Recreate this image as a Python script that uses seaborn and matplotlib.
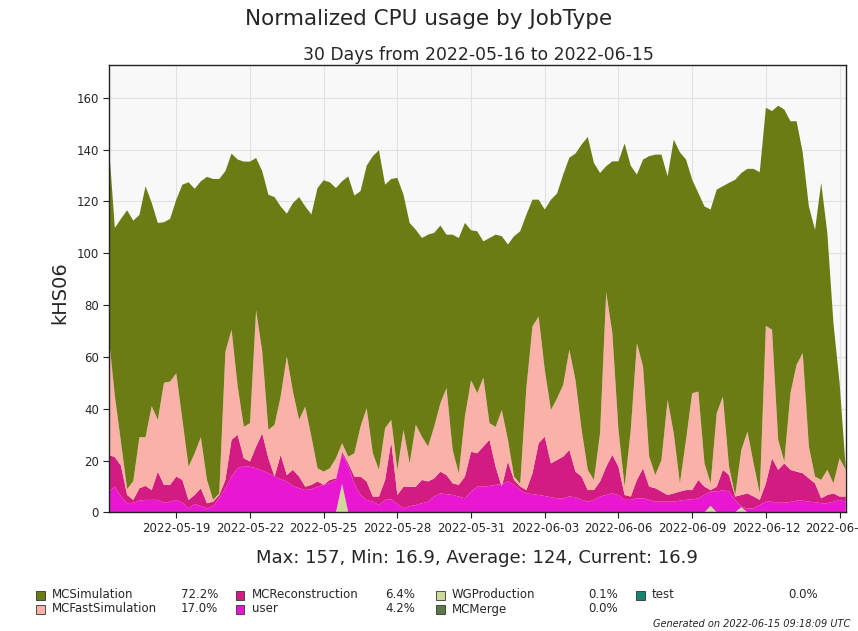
import numpy as np
import pandas as pd
import matplotlib
matplotlib.use("Agg")
import matplotlib.pyplot as plt
import matplotlib.dates as mdates
from matplotlib.patches import Rectangle
import seaborn as sns

# ---------------------------------------------------------------
# data: six-hourly samples, 2022-05-16 06:00 -> 2022-06-15 06:00
# each list is the upper edge of a stacked band (kHS06), as read
# off the original chart; bands are recovered by differencing
# ---------------------------------------------------------------
times = pd.date_range("2022-05-16 06:00", "2022-06-15 06:00", freq="6h")

total_top = [
    142.6, 109.8, 113.3, 116.6, 112.6, 114.8, 125.9, 119.5, 111.7, 112.0,
    113.3, 120.7, 126.5, 127.4, 124.9, 127.8, 129.5, 128.7, 128.7, 131.7,
    138.5, 136.2, 135.4, 135.4, 136.8, 131.7, 122.6, 121.7, 118.1, 115.3,
    119.4, 121.7, 118.1, 115.0, 125.2, 128.2, 127.4, 125.2, 127.8, 129.7,
    122.3, 124.0, 133.8, 137.5, 139.8, 126.5, 128.7, 129.1, 122.6, 111.7,
    109.1, 105.9, 107.2, 107.9, 110.7, 107.2, 107.2, 105.9, 111.7, 108.9,
    108.5, 104.6, 105.9, 107.2, 106.6, 103.4, 106.6, 108.5, 114.9, 120.7,
    120.7, 116.9, 120.7, 123.1, 130.4, 136.9, 138.5, 142.0, 144.9, 134.9,
    131.0, 133.6, 135.5, 135.5, 142.4, 133.8, 130.4, 136.2, 137.5, 138.1,
    138.1, 129.7, 143.9, 139.0, 136.2, 128.4, 123.3, 118.1, 116.9, 124.6,
    125.9, 127.2, 128.4, 131.0, 132.6, 132.6, 131.3, 156.2, 154.9, 157.0,
    155.5, 151.0, 151.0, 138.8, 118.1, 109.0, 127.2, 108.0, 73.0, 50.0,
    16.9,
]

fast_top = [
    67.9, 45.0, 27.0, 9.0, 12.0, 29.0, 29.0, 41.0, 35.7, 50.0,
    50.5, 53.7, 35.7, 17.6, 22.8, 29.0, 12.5, 4.8, 7.3, 62.0,
    70.5, 48.6, 33.0, 34.4, 78.0, 62.0, 31.8, 33.8, 44.7, 60.2,
    46.6, 35.7, 40.8, 29.2, 17.0, 15.7, 17.0, 20.9, 26.7, 21.5,
    22.8, 33.1, 40.2, 22.8, 16.4, 32.5, 35.7, 16.4, 31.8, 18.9,
    33.8, 29.2, 25.4, 33.1, 42.1, 48.0, 24.1, 15.0, 37.0, 51.0,
    46.0, 52.0, 34.4, 33.0, 39.5, 28.0, 13.8, 11.0, 48.0, 71.8,
    75.6, 55.0, 39.5, 44.0, 49.2, 62.8, 51.0, 31.8, 16.4, 12.5,
    30.5, 85.0, 69.2, 31.8, 9.9, 31.8, 65.3, 56.3, 21.5, 14.4,
    20.2, 43.4, 30.5, 11.2, 28.0, 46.0, 46.6, 18.9, 11.2, 38.3,
    44.7, 17.6, 6.5, 24.0, 31.2, 18.9, 7.3, 72.0, 70.5, 28.0,
    19.6, 46.0, 57.0, 61.5, 25.4, 13.8, 12.5, 16.4, 11.2, 20.9,
    16.4,
]

reco_top = [
    22.2, 21.3, 18.0, 6.7, 4.8, 9.3, 10.2, 8.6, 15.7, 10.6,
    10.6, 13.8, 12.5, 4.8, 6.7, 9.3, 3.5, 4.1, 6.7, 12.5,
    28.0, 29.9, 20.9, 19.6, 25.4, 30.5, 20.9, 13.8, 22.2, 14.4,
    16.4, 13.8, 9.9, 10.6, 11.9, 10.6, 12.5, 13.1, 23.4, 19.0,
    13.8, 13.8, 11.9, 6.1, 6.1, 12.5, 27.3, 6.7, 9.9, 9.9,
    9.9, 12.5, 11.9, 13.1, 15.7, 14.4, 11.2, 10.6, 13.8, 23.4,
    22.8, 25.4, 28.0, 17.6, 9.9, 19.6, 12.5, 10.0, 8.6, 15.1,
    26.7, 29.2, 18.9, 20.2, 21.5, 24.1, 15.7, 13.8, 8.6, 8.6,
    11.9, 17.6, 22.2, 17.6, 6.7, 6.1, 12.5, 17.0, 9.9, 9.3,
    8.0, 6.7, 7.3, 8.0, 8.6, 8.6, 12.5, 9.9, 8.6, 9.9,
    16.4, 14.4, 6.1, 6.7, 7.3, 6.1, 4.8, 11.2, 20.9, 16.4,
    18.9, 16.4, 15.7, 15.1, 13.1, 11.2, 5.4, 6.7, 7.3, 6.1,
    6.1,
]

user_top = [
    8.0, 9.9, 6.1, 3.5, 3.7, 4.5, 4.8, 4.8, 4.8, 3.7,
    4.1, 4.8, 3.7, 1.5, 3.2, 2.4, 1.5, 2.4, 5.4, 9.3,
    13.8, 17.0, 17.9, 17.6, 17.0, 16.1, 15.1, 13.8, 12.8, 11.9,
    10.2, 9.3, 8.6, 8.9, 9.9, 10.6, 11.2, 12.5, 22.5, 17.9,
    11.0, 6.7, 4.8, 4.1, 2.8, 4.8, 5.0, 3.2, 1.5, 2.4,
    2.8, 3.5, 4.1, 6.1, 7.3, 7.0, 6.7, 6.1, 5.4, 8.0,
    9.9, 9.9, 10.2, 10.6, 10.9, 11.9, 10.6, 8.6, 7.3, 7.0,
    6.7, 6.3, 5.8, 5.4, 5.4, 6.1, 5.8, 4.8, 4.1, 4.8,
    6.1, 6.7, 7.3, 6.7, 4.8, 4.8, 5.4, 5.4, 4.8, 4.1,
    4.1, 4.1, 4.1, 4.5, 4.8, 5.0, 5.4, 6.7, 8.0, 8.0,
    8.6, 8.0, 4.8, 2.2, 1.5, 1.5, 2.8, 4.1, 4.1, 3.7,
    3.7, 4.0, 4.5, 4.5, 4.1, 3.9, 3.5, 3.5, 4.1, 4.8,
    4.1,
]

wg_top = [
    0, 0, 0, 0, 0, 0, 0, 0, 0, 0,
    0, 0, 0, 0, 0, 0, 0, 0, 0, 0,
    0, 0, 0, 0, 0, 0, 0, 0, 0, 0,
    0, 0, 0, 0, 0, 0, 0, 0, 11.0, 0,
    0, 0, 0, 0, 0, 0, 0, 0, 0, 0,
    0, 0, 0, 0, 0, 0, 0, 0, 0, 0,
    0, 0, 0, 0, 0, 0, 0, 0, 0, 0,
    0, 0, 0, 0, 0, 0, 0, 0, 0, 0,
    0, 0, 0, 0, 0, 0, 0, 0, 0, 0,
    0, 0, 0, 0, 0, 0, 0, 0, 2.5, 0,
    0, 0, 0, 2.0, 0, 0, 0, 0, 0, 0,
    0, 0, 0, 0, 0, 0, 0, 0, 0, 0,
    0,
]

legend_names = ["MCSimulation", "MCFastSimulation", "MCReconstruction", "user",
                "WGProduction", "MCMerge", "test"]
legend_pcts = ["72.2%", "17.0%", "6.4%", "4.2%", "0.1%", "0.0%", "0.0%"]

COLORS = {
    "MCSimulation": "#6b7c14",
    "MCFastSimulation": "#fab2a8",
    "MCReconstruction": "#d21c82",
    "user": "#e916d2",
    "WGProduction": "#cfd898",
    "MCMerge": "#5b7a48",
    "test": "#138570",
}

# ---------------------------------------------------------------
# bands (bottom -> top)
# ---------------------------------------------------------------
levels = np.array([np.zeros(len(times)), wg_top, user_top, reco_top, fast_top, total_top])
bands = np.diff(levels, axis=0)
band_names = ["WGProduction", "user", "MCReconstruction", "MCFastSimulation", "MCSimulation"]

# ---------------------------------------------------------------
# figure
# ---------------------------------------------------------------
sns.set_theme(style="whitegrid", rc={
    "axes.facecolor": "#f8f8f8",
    "axes.edgecolor": "#222222",
    "grid.color": "#e2e2e2",
    "grid.linewidth": 0.8,
})
plt.rcParams["font.family"] = ["DejaVu Sans"]

fig = plt.figure(figsize=(8.58, 6.31), dpi=100, facecolor="white")
ax = fig.add_axes([0.1267, 0.1881, 0.859, 0.7089])

ax.stackplot(times, *bands, colors=[COLORS[n] for n in band_names],
             linewidth=0, edgecolor="none")

ax.set_xlim(times[0], times[-1])
ax.set_ylim(0, 172.7)
ax.set_yticks(range(0, 161, 20))
ax.xaxis.set_major_locator(mdates.DayLocator(bymonthday=[19, 22, 25, 28, 31, 3, 6, 9, 12, 15]))
ax.xaxis.set_major_formatter(mdates.DateFormatter("%Y-%m-%d"))
ax.tick_params(axis="both", which="major", labelsize=8.5, length=4, width=0.8,
               direction="out", color="#222222", bottom=True, left=True, pad=3)
for s in ax.spines.values():
    s.set_linewidth(1.0)
    s.set_color("#222222")
ax.set_axisbelow(True)

fig.text(0.5, 0.970, "Normalized CPU usage by JobType", ha="center", va="center",
         fontsize=15.5)
fig.text(0.5575, 0.913, "30 Days from 2022-05-16 to 2022-06-15", ha="center",
         va="center", fontsize=12.4)
fig.text(0.070, 0.537, "kHS06", ha="center", va="center", rotation=90, fontsize=14)
fig.text(0.556, 0.1157, "Max: 157, Min: 16.9, Average: 124, Current: 16.9",
         ha="center", va="center", fontsize=13)

# ---------------------------------------------------------------
# legend table (4 columns x 2 rows, column-major)
# ---------------------------------------------------------------
col_x = [40, 240, 440, 640]
pct_right = [218, 415, 618, 818]
row_y = [595, 609]
W, H = 858.0, 631.0
for i, (name, pct) in enumerate(zip(legend_names, legend_pcts)):
    c, r = divmod(i, 2)
    x0, y0 = col_x[c], row_y[r]
    fig.patches.append(Rectangle(((x0 - 4.5) / W, 1 - (y0 + 4.5) / H), 9 / W, 9 / H,
                                 transform=fig.transFigure, facecolor=COLORS[name],
                                 edgecolor="#333333", linewidth=0.6))
    fig.text((x0 + 12) / W, 1 - y0 / H, name, ha="left", va="center", fontsize=8.5)
    fig.text(pct_right[c] / W, 1 - y0 / H, pct, ha="right", va="center", fontsize=8.5)

fig.text(0.991, 0.011, "Generated on 2022-06-15 09:18:09 UTC", ha="right",
         va="center", fontsize=7, style="italic")

fig.savefig("out.png", dpi=100, facecolor="white")
